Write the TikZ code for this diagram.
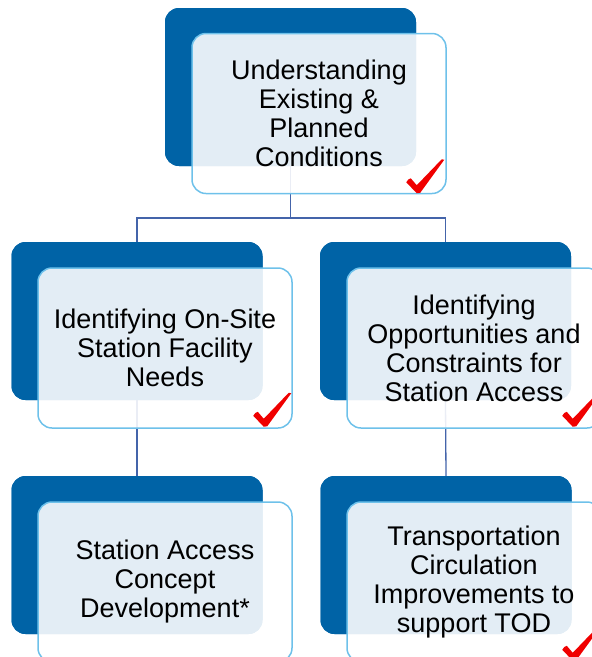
\documentclass[tikz,border=0pt]{standalone}
\usepackage{fontspec}
\setmainfont{Liberation Sans}
\usetikzlibrary{calc}
\definecolor{darkbl}{RGB}{0,99,166}
\definecolor{edgebl}{RGB}{110,193,234}
\definecolor{linkbl}{RGB}{68,100,170}
\definecolor{chkred}{RGB}{240,0,0}
\tikzset{
  darkbox/.style={draw=none, fill=darkbl, rounded corners=14pt, minimum width=251pt, minimum height=158pt, inner sep=0pt},
  lightbox/.style={draw=edgebl, line width=1.5pt, fill=white, fill opacity=0.89, text opacity=1, rounded corners=14pt, minimum width=254pt, minimum height=160pt, inner sep=0pt, align=center, font=\fontsize{27}{29}\selectfont},
  link/.style={draw=linkbl, line width=1.3pt},
  chk/.style={fill=chkred, draw=none}
}
\newcommand{\mycheck}[1]{%
  \fill[chk, shift={#1}] (0,1) -- (-10.5,-10) .. controls (-8.5,-13) .. (-6,-14) -- (0,-7) -- (25,-33) -- (27.5,-32.5) -- (3.5,0.5) -- cycle;}
\begin{document}
\begin{tikzpicture}[x=1pt,y=-1pt]
\useasboundingbox (0,0) rectangle (592,657);
\clip (0,0) rectangle (592,657);
% dark boxes
\node[darkbox] (d1) at (290.5,87) {};
\node[darkbox] (d2) at (137,321) {};
\node[darkbox] (d3) at (445.5,321) {};
\node[darkbox] (d4) at (137,555) {};
\node[darkbox] (d5) at (446,555) {};
% connectors (behind light boxes)
\coordinate (hb) at (290.5,218);
\draw[link] (d1.south) -- (hb) -| (d2.north);
\draw[link] (hb) -| (d3.north);
\draw[link] (d2.south) -- (d4.north);
\draw[link] (d3.south) -- (d5.north);
% redraw dark boxes over connectors
\node[darkbox] at (d1) {};
\node[darkbox] at (d2) {};
\node[darkbox] at (d3) {};
\node[darkbox] at (d4) {};
\node[darkbox] at (d5) {};
% light boxes
\node[lightbox] (l1) at (319,113.5) {Understanding\\Existing \&\\Planned\\Conditions};
\node[lightbox] (l2) at (165,348) {Identifying On-Site\\Station Facility\\Needs};
\node[lightbox] (l3) at (474,348) {Identifying\\Opportunities and\\Constraints for\\Station Access};
\node[lightbox] (l4) at (165,582) {Station Access\\Concept\\Development*};
\node[lightbox] (l5) at (474,582) {Transportation\\Circulation\\Improvements to\\support TOD};
% check marks
\mycheck{($(l1.south east)+(-30,-2)$)}
\mycheck{($(l2.south east)+(-29,-3)$)}
\mycheck{($(l3.south east)+(-29,-3)$)}
\mycheck{($(l5.south east)+(-29,-3)$)}
\end{tikzpicture}
\end{document}
